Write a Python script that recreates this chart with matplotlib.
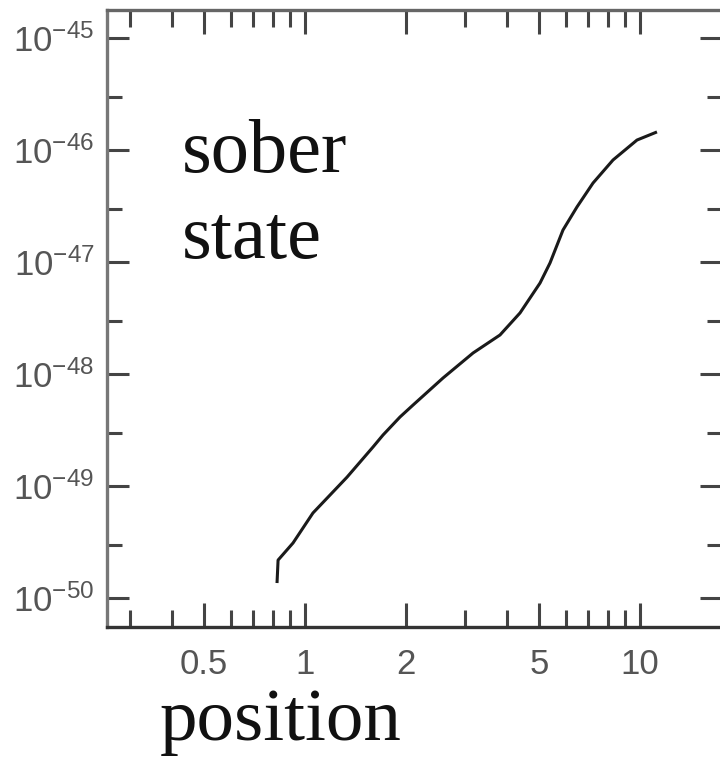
import numpy as np
import matplotlib
matplotlib.use("Agg")
import matplotlib.pyplot as plt
from matplotlib import font_manager
from matplotlib.ticker import FixedLocator, FixedFormatter, NullFormatter

# --- data ---
position = [0.825, 0.831, 0.921, 1.056, 1.335, 1.596, 1.709, 1.921, 2.101,
            2.582, 3.174, 3.820, 4.384, 5.030, 5.387, 5.890, 6.484, 7.240,
            8.306, 9.795, 11.237]
value = [1.36e-50, 2.18e-50, 3.10e-50, 5.74e-50, 1.20e-49, 2.23e-49, 2.85e-49,
         4.13e-49, 5.28e-49, 9.21e-49, 1.54e-48, 2.23e-48, 3.51e-48, 6.49e-48,
         9.80e-48, 1.93e-47, 3.10e-47, 5.07e-47, 8.14e-47, 1.227e-46, 1.45e-46]

x_major = [0.5, 1, 2, 5, 10]
x_major_labels = ['0.5', '1', '2', '5', '10']
x_minor = [0.3, 0.4, 0.6, 0.7, 0.8, 0.9, 3, 4, 6, 7, 8, 9]
y_exponents = [-50, -49, -48, -47, -46, -45]

# pick a narrow sans if it is there
names = {f.name for f in font_manager.fontManager.ttflist}
tick_font = 'Liberation Sans Narrow' if 'Liberation Sans Narrow' in names else 'Liberation Sans'
plt.rcParams['mathtext.fontset'] = 'custom'
plt.rcParams['mathtext.rm'] = tick_font
plt.rcParams['mathtext.it'] = tick_font
plt.rcParams['font.family'] = [tick_font, 'DejaVu Sans']

fig = plt.figure(figsize=(7.2, 7.57), dpi=100)
ax = fig.add_axes([107 / 720, 1 - 627 / 757, (722 - 107) / 720, (627 - 10) / 757])

ax.plot(position, value, color='#1a1a1a', lw=2.2, solid_joinstyle='round',
        solid_capstyle='butt')

ax.set_xscale('log')
ax.set_yscale('log')
ax.set_xlim(0.2564, 17.57)
ax.set_ylim(10 ** -50.259, 10 ** -44.75)

# x ticks
ax.xaxis.set_major_locator(FixedLocator(x_major))
ax.xaxis.set_major_formatter(FixedFormatter(x_major_labels))
ax.xaxis.set_minor_locator(FixedLocator(x_minor))
ax.xaxis.set_minor_formatter(NullFormatter())

# y ticks
y_major = [10.0 ** e for e in y_exponents]
ax.yaxis.set_major_locator(FixedLocator(y_major))
ax.yaxis.set_major_formatter(FixedFormatter([r'$10^{-%d}$' % -e for e in y_exponents]))
ax.yaxis.set_minor_locator(FixedLocator([3 * 10.0 ** e for e in range(-51, -44)]))
ax.yaxis.set_minor_formatter(NullFormatter())

ax.tick_params(axis='both', which='both', direction='in', top=True, right=True,
               color='#444444', width=2.2, labelcolor='#555555', labelsize=25)
ax.tick_params(axis='x', which='major', length=17, pad=15)
ax.tick_params(axis='x', which='minor', length=12)
ax.tick_params(axis='y', which='major', length=16, pad=9)
ax.tick_params(axis='y', which='minor', length=11)

for side, c in [('left', '#777777'), ('bottom', '#333333'), ('top', '#666666'), ('right', '#666666')]:
    ax.spines[side].set_color(c)
    ax.spines[side].set_linewidth(2.4)

# annotations
serif = ['Liberation Serif', 'DejaVu Serif']
fig.text(182 / 720, 1 - 172 / 757, 'sober', fontsize=55, family=serif,
         color='#111111', va='baseline', ha='left')
fig.text(182 / 720, 1 - 258 / 757, 'state', fontsize=55, family=serif,
         color='#111111', va='baseline', ha='left')
fig.text(160 / 720, 1 - 740 / 757, 'position', fontsize=54, family=serif,
         color='#111111', va='baseline', ha='left')

fig.savefig('out.png', dpi=100)
